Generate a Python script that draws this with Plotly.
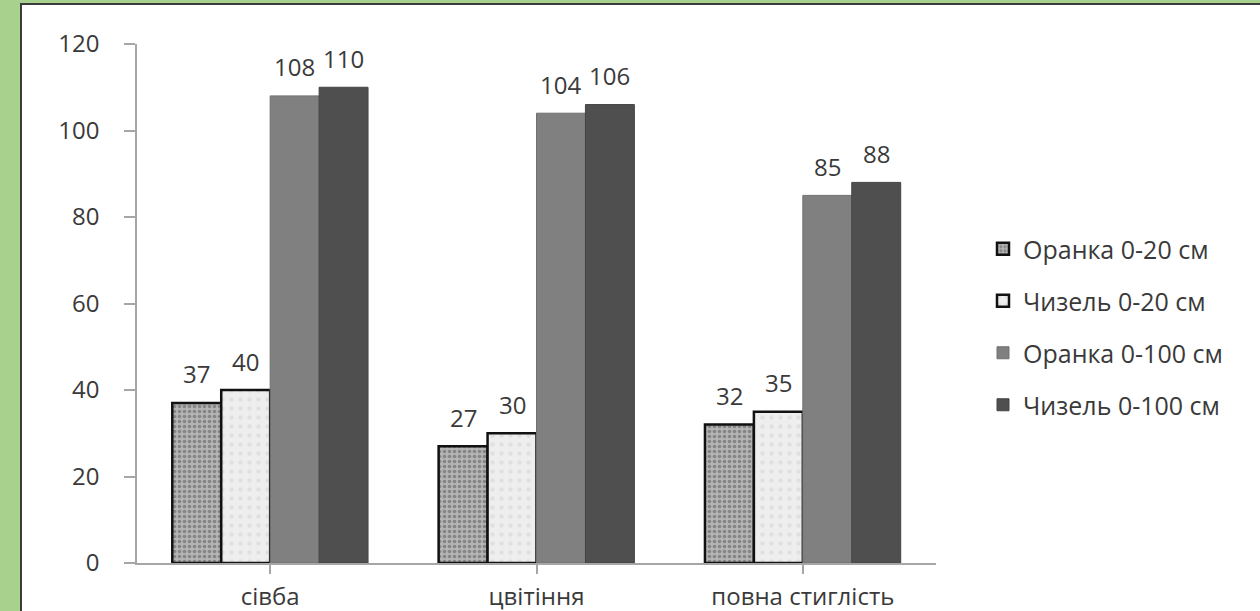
import plotly.graph_objects as go

categories = ["сівба", "цвітіння", "повна стиглість"]
series_names = ["Оранка 0-20 см", "Чизель 0-20 см", "Оранка 0-100 см", "Чизель 0-100 см"]
oranka_20 = [37, 27, 32]
chyzel_20 = [40, 30, 35]
oranka_100 = [108, 104, 85]
chyzel_100 = [110, 106, 88]
series_values = [oranka_20, chyzel_20, oranka_100, chyzel_100]
y_ticks = [0, 20, 40, 60, 80, 100, 120]

W, H = 1260, 611
FONT = "Open Sans"
TXT = "#3a3a3a"

styles = [
    dict(color="#a8a8a8", line=dict(color="#111111", width=2.5),
         pattern=dict(shape=".", fgcolor="#555555", bgcolor="#b4b4b4", size=5, solidity=0.42)),
    dict(color="#ececec", line=dict(color="#111111", width=2.5),
         pattern=dict(shape=".", fgcolor="#d2d2d2", bgcolor="#eeeeee", size=9, solidity=0.2)),
    dict(color="#808080", line=dict(color="#707070", width=1)),
    dict(color="#4f4f4f", line=dict(color="#454545", width=1)),
]

fig = go.Figure()
for k, (name, vals) in enumerate(zip(series_names, series_values)):
    fig.add_trace(go.Bar(
        x=list(range(len(categories))), y=vals, name=name,
        marker=styles[k], legendgroup=f"g{k}",
    ))

bargap = 0.265
n = len(series_values)
bw = (1 - bargap) / n
annotations = []
for k, vals in enumerate(series_values):
    for i, v in enumerate(vals):
        annotations.append(dict(
            x=i + (k - (n - 1) / 2) * bw, y=v, xref="x", yref="y",
            text=str(v), showarrow=False, yanchor="middle", yshift=29,
            font=dict(family=FONT, size=24, color=TXT),
        ))

x0_px, x1_px = 137, 936
y0_px, y1_px = 563, 44

fig.update_layout(
    width=W, height=H,
    margin=dict(l=0, r=0, t=0, b=0, autoexpand=False),
    paper_bgcolor="#a9d18e",
    plot_bgcolor="rgba(0,0,0,0)",
    barmode="group", bargap=bargap, bargroupgap=0,
    font=dict(family=FONT, size=24, color=TXT),
    showlegend=True,
    legend=dict(x=983 / W, y=1 - 226 / H, xanchor="left", yanchor="top",
                bgcolor="rgba(0,0,0,0)", tracegroupgap=16.5,
                font=dict(family=FONT, size=25, color=TXT)),
    annotations=annotations,
    shapes=[dict(type="rect", xref="paper", yref="paper",
                 x0=21 / W, x1=1.05, y0=-0.05, y1=1 - 4 / H,
                 fillcolor="white", line=dict(color="#3c3c3c", width=2), layer="below")],
    xaxis=dict(domain=[x0_px / W, x1_px / W], tickmode="array", automargin=False,
               tickvals=list(range(len(categories))), ticktext=categories,
               range=[-0.5, len(categories) - 0.5],
               showline=True, linecolor="#a6a6a6", linewidth=1.5,
               ticks="outside", tickson="boundaries", ticklen=9, tickcolor="#a6a6a6", tickwidth=1.5,
               showgrid=False, zeroline=False, ticklabelstandoff=2,
               tickfont=dict(family=FONT, size=24, color=TXT)),
    yaxis=dict(domain=[1 - y0_px / H, 1 - y1_px / H], range=[0, 120], automargin=False,
               tickvals=y_ticks, showline=True, linecolor="#a6a6a6", linewidth=1.5,
               ticks="outside", ticklen=11, tickcolor="#a6a6a6", tickwidth=1.5,
               showgrid=False, zeroline=False, ticklabelstandoff=20,
               tickfont=dict(family=FONT, size=24, color=TXT)),
)

fig.write_html("out.html")
